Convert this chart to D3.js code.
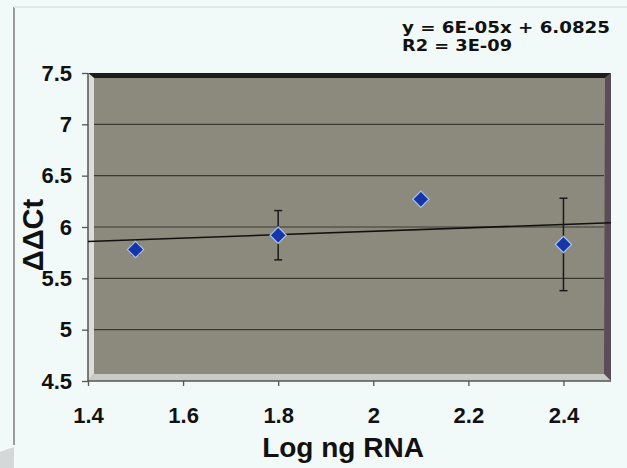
<!DOCTYPE html>
<html><head><meta charset="utf-8">
<script src="https://cdn.jsdelivr.net/npm/d3@7"></script>
<style>body{margin:0;background:#f1faf8;}svg{display:block;}</style>
</head><body>
<script>
const xValues = [1.5, 1.8, 2.1, 2.4];
const yValues = [5.78, 5.92, 6.27, 5.83];
const yErrors = [0.05, 0.24, 0.03, 0.45];
const xTicks = [1.4, 1.6, 1.8, 2.0, 2.2, 2.4];
const yTicks = [4.5, 5, 5.5, 6, 6.5, 7, 7.5];
const equationLines = ["y = 6E-05x + 6.0825", "R2 = 3E-09"];

const W = 627, H = 468;
const m = {l: 88, r: 16, t: 73, b: 87};
const svg = d3.select("body").append("svg").attr("width", W).attr("height", H);
const font = "'Liberation Sans', Arial, sans-serif";

// page frame
svg.append("rect").attr("width", W).attr("height", H).attr("fill", "#f1faf8");
svg.append("line").attr("x1", 14).attr("x2", 14).attr("y1", 7).attr("y2", 445).attr("stroke", "#9a9c9c").attr("stroke-width", 2);
svg.append("line").attr("x1", 14).attr("x2", 627).attr("y1", 7).attr("y2", 7).attr("stroke", "#dfe6e4").attr("stroke-width", 2);
svg.append("polygon").attr("points", "0,452 14,447 14,468 0,468").attr("fill", "#d4d8d8");

const x = d3.scaleLinear().domain([1.4, 2.5]).range([m.l, W - m.r]);
const y = d3.scaleLinear().domain([4.5, 7.5]).range([H - m.b, m.t]);

const x0 = x(1.4), x1 = x(2.5), y0 = y(4.5), y1 = y(7.5);
// plot background
svg.append("rect").attr("x", x0).attr("y", y1).attr("width", x1 - x0).attr("height", y0 - y1).attr("fill", "#8b8a7c");
// bevel frame
svg.append("polygon").attr("points", `${x0},${y1} ${x1},${y1} ${x1-6},${y1+5} ${x0+6},${y1+5}`).attr("fill", "#1c1c1c");
svg.append("polygon").attr("points", `${x1},${y1} ${x1},${y0} ${x1-7},${y0-7} ${x1-6},${y1+5}`).attr("fill", "#5a4c58");
svg.append("polygon").attr("points", `${x0},${y1} ${x0+6},${y1+5} ${x0+6},${y0-7} ${x0},${y0}`).attr("fill", "#dcdcd8");
svg.append("polygon").attr("points", `${x0},${y0} ${x0+6},${y0-7} ${x1-7},${y0-7} ${x1},${y0}`).attr("fill", "#c9ccc6");

// gridlines
svg.append("g").selectAll("line").data(yTicks.filter(d => d > 4.5 && d < 7.5)).join("line")
  .attr("x1", x0 + 6).attr("x2", x1 - 7).attr("y1", d => y(d)).attr("y2", d => y(d))
  .attr("stroke", "#3b3b33").attr("stroke-width", 1.2);

// axes
const yAxis = svg.append("g").attr("transform", `translate(${x0},0)`)
  .call(d3.axisLeft(y).tickValues(yTicks).tickSize(6).tickPadding(10).tickFormat(d3.format("")));
const xAxis = svg.append("g").attr("transform", `translate(0,${y0})`)
  .call(d3.axisBottom(x).tickValues(xTicks).tickSize(5).tickPadding(21).tickFormat(d => d3.format("")(d)));
[xAxis, yAxis].forEach(g => {
  g.select(".domain").attr("stroke", "#555").attr("stroke-width", 1.5);
  g.selectAll(".tick line").attr("stroke", "#555").attr("stroke-width", 1.3);
  g.selectAll("text").attr("font-family", font).attr("font-weight", "bold").attr("font-size", 22).attr("fill", "#111");
});
xAxis.select(".domain").attr("d", `M${x0},0H${x1}`);
yAxis.select(".domain").attr("d", `M0,${y0}V${y1}`);

// trendline (least squares over the points)
const mx = d3.mean(xValues), my = d3.mean(yValues);
const slope = d3.sum(xValues, (v, i) => (v - mx) * (yValues[i] - my)) / d3.sum(xValues, v => (v - mx) ** 2);
const icpt = my - slope * mx;
svg.append("line").attr("x1", x0).attr("x2", x1)
  .attr("y1", y(icpt + slope * 1.4)).attr("y2", y(icpt + slope * 2.5))
  .attr("stroke", "#111").attr("stroke-width", 1.6);

// error bars
const eb = svg.append("g").attr("stroke", "#1a1a1a").attr("stroke-width", 1.5);
xValues.forEach((xv, i) => {
  const yt = y(yValues[i] + yErrors[i]), yb = y(yValues[i] - yErrors[i]);
  eb.append("line").attr("x1", x(xv)).attr("x2", x(xv)).attr("y1", yt).attr("y2", yb);
  eb.append("line").attr("x1", x(xv) - 4).attr("x2", x(xv) + 4).attr("y1", yt).attr("y2", yt);
  eb.append("line").attr("x1", x(xv) - 4).attr("x2", x(xv) + 4).attr("y1", yb).attr("y2", yb);
});

// markers
svg.append("g").selectAll("path").data(xValues).join("path")
  .attr("d", d3.symbol(d3.symbolDiamond2, 170))
  .attr("transform", (d, i) => `translate(${x(d)},${y(yValues[i])})`)
  .attr("fill", "#1436a8").attr("stroke", "#a8c0f0").attr("stroke-width", 1.2);

// axis titles
svg.append("text").attr("x", 343).attr("y", 457).attr("text-anchor", "middle")
  .attr("font-family", font).attr("font-weight", "bold").attr("font-size", 28).attr("fill", "#111").text("Log ng RNA");
svg.append("text").attr("transform", `translate(43,${235}) rotate(-90)`).attr("text-anchor", "middle")
  .attr("font-family", font).attr("font-weight", "bold").attr("font-size", 29).attr("fill", "#111").text("ΔΔCt");

// equation
const eqWidths = [208, 110];
svg.append("g").selectAll("text").data(equationLines).join("text")
  .attr("x", 402).attr("y", (d, i) => 33 + i * 18)
  .attr("textLength", (d, i) => eqWidths[i]).attr("lengthAdjust", "spacingAndGlyphs")
  .attr("font-family", "'DejaVu Sans', Verdana, sans-serif").attr("font-weight", "bold").attr("font-size", 16).attr("fill", "#111").text(d => d);
</script>
</body></html>
